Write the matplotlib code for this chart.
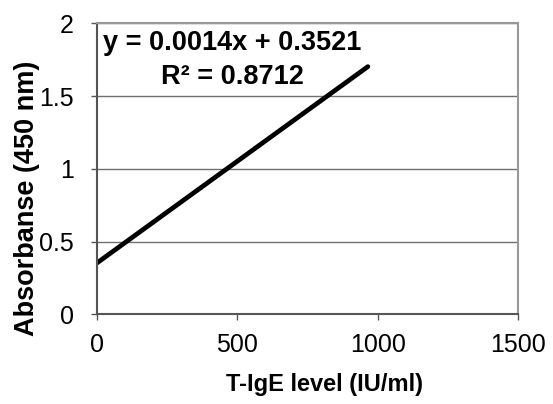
import matplotlib.pyplot as plt
import numpy as np

plt.rcParams['font.family'] = ['Liberation Sans', 'DejaVu Sans']

# Trendline data
slope = 0.0014
intercept = 0.3521
r_squared = 0.8712
x_range = np.array([0, 965])
y_line = slope * x_range + intercept

x_ticks = [0, 500, 1000, 1500]
y_ticks = [0, 0.5, 1, 1.5, 2]

fig = plt.figure(figsize=(5.53, 4.04), dpi=100)
ax = fig.add_axes([0.175, 0.222, 0.762, 0.720])

ax.plot(x_range, y_line, color='black', linewidth=3.4, solid_capstyle='round')

ax.set_xlim(0, 1500)
ax.set_ylim(0, 2)
ax.set_xticks(x_ticks)
ax.set_yticks(y_ticks)
ax.set_yticklabels(['0', '0.5', '1', '1.5', '2'])
ax.yaxis.grid(True, color='#707070', linewidth=1)
ax.set_axisbelow(True)

for side in ['top', 'right']:
    ax.spines[side].set_color('#999999')
    ax.spines[side].set_linewidth(1.5)
for side in ['left', 'bottom']:
    ax.spines[side].set_color('#555555')
    ax.spines[side].set_linewidth(1.5)

ax.tick_params(axis='both', direction='out', length=4.5, width=1, color='#555555',
               labelsize=18)
ax.tick_params(axis='x', pad=9)
ax.tick_params(axis='y', pad=12)

fig.text(325 / 553, 1 - 385 / 404, 'T-IgE level (IU/ml)', ha='center', va='center',
         fontsize=17, fontweight='bold')
fig.text(27 / 553, 1 - 198 / 404, 'Absorbanse (450 nm)', ha='center', va='center',
         rotation=90, fontsize=19.5, fontweight='bold')

fig.text(232 / 553, 1 - 60 / 404, f'y = {slope}x + {intercept}\nR² = {r_squared}',
         ha='center', va='center', multialignment='center',
         fontsize=19.5, fontweight='bold', linespacing=1.45)

fig.savefig('out.png', dpi=100)
